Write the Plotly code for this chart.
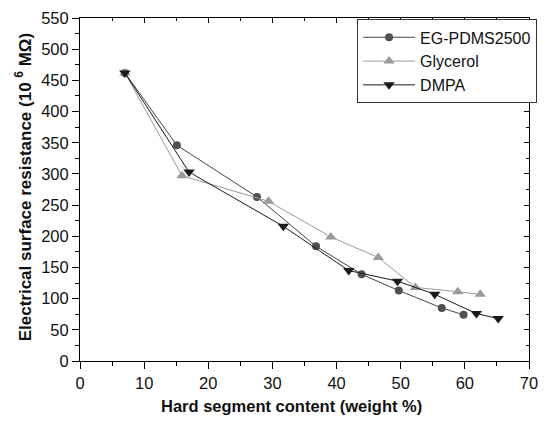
import plotly.graph_objects as go

eg_x = [7, 15.1, 27.6, 36.8, 43.9, 49.7, 56.4, 59.8]
eg_y = [462, 346, 263, 184, 139, 113, 85, 74]

gly_x = [7, 15.9, 29.4, 39.1, 46.5, 52.3, 58.9, 62.4]
gly_y = [462, 297, 256, 199, 166, 118, 111, 107]

dmpa_x = [7, 17.0, 31.7, 41.9, 49.5, 55.3, 61.8, 65.2]
dmpa_y = [462, 303, 216, 145, 128, 107, 76, 68]

names = ["EG-PDMS2500", "Glycerol", "DMPA"]
x_title = "<b>Hard segment content (weight %)</b>"
y_title = "<b>Electrical surface resistance (10 <sup>6</sup> MΩ)</b>"

x_range = [0, 70]
y_range = [0, 550]

fig = go.Figure()
fig.add_trace(go.Scatter(x=eg_x, y=eg_y, name=names[0], mode="lines+markers",
                         line=dict(color="#444444", width=1),
                         marker=dict(symbol="circle", size=8, color="#505050")))
fig.add_trace(go.Scatter(x=gly_x, y=gly_y, name=names[1], mode="lines+markers",
                         line=dict(color="#9a9a9a", width=1),
                         marker=dict(symbol="triangle-up", size=10, color="#9a9a9a")))
fig.add_trace(go.Scatter(x=dmpa_x, y=dmpa_y, name=names[2], mode="lines+markers",
                         line=dict(color="#1a1a1a", width=1),
                         marker=dict(symbol="triangle-down", size=10, color="#1a1a1a")))

fam = "Liberation Sans, Arial, sans-serif"
font = dict(family=fam, size=16.5, color="#111111")

fig.update_layout(
    width=547, height=422,
    margin=dict(l=80, r=10, t=18, b=61),
    paper_bgcolor="white", plot_bgcolor="white",
    font=font,
    showlegend=True,
    legend=dict(x=1.018, xanchor="right", y=0.996, yanchor="top",
                bordercolor="#333333", borderwidth=1, bgcolor="white",
                font=dict(family=fam, size=16), itemwidth=52, tracegroupgap=0),
    xaxis=dict(range=x_range, dtick=10, tick0=0, ticks="outside", ticklen=7,
               tickwidth=1, tickcolor="black", showline=True, linecolor="black",
               linewidth=1, showgrid=False, zeroline=False,
               tickfont=dict(family=fam, size=16.5),
               minor=dict(dtick=5, ticklen=4, ticks="outside", tickcolor="black")),
    yaxis=dict(range=y_range, dtick=50, tick0=0, ticks="outside", ticklen=7,
               tickwidth=1, tickcolor="black", showline=True, linecolor="black",
               linewidth=1, showgrid=False, zeroline=False,
               tickfont=dict(family=fam, size=16.5),
               minor=dict(dtick=25, ticklen=4, ticks="outside", tickcolor="black")),
    xaxis2=dict(range=x_range, overlaying="x", side="top", dtick=10, ticks="inside",
                ticklen=5, tickcolor="black", showticklabels=False, showline=True,
                linecolor="black", linewidth=1, showgrid=False, zeroline=False,
                minor=dict(dtick=5, ticklen=3, ticks="inside", tickcolor="black")),
    yaxis2=dict(range=y_range, overlaying="y", side="right", dtick=50, ticks="inside",
                ticklen=5, tickcolor="black", showticklabels=False, showline=True,
                linecolor="black", linewidth=1, showgrid=False, zeroline=False,
                minor=dict(dtick=25, ticklen=3, ticks="inside", tickcolor="black")),
    annotations=[
        dict(text=x_title, xref="paper", yref="paper", x=0.47, y=-0.13,
             xanchor="center", yanchor="middle", showarrow=False,
             font=dict(family=fam, size=16.5, color="#111111")),
        dict(text=y_title, xref="paper", yref="paper", x=-0.125, y=0.506,
             xanchor="center", yanchor="middle", showarrow=False, textangle=-90,
             font=dict(family=fam, size=17, color="#111111")),
    ],
)
fig.add_trace(go.Scatter(x=[0], y=[0], xaxis="x2", yaxis="y2", mode="markers",
                         marker=dict(opacity=0), showlegend=False, hoverinfo="skip"))

fig.write_html("out.html")
